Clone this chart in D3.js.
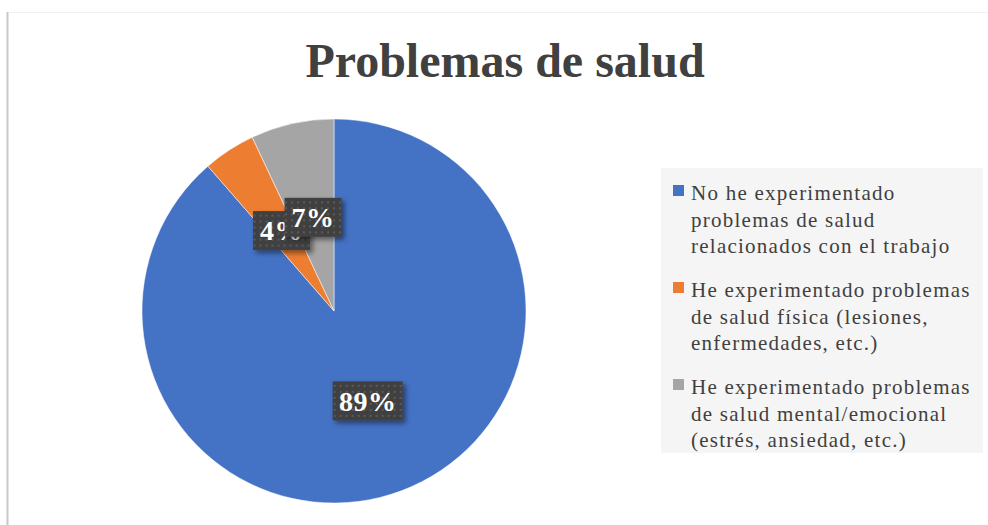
<!DOCTYPE html>
<html>
<head>
<meta charset="utf-8">
<script src="https://cdn.jsdelivr.net/npm/d3@7"></script>
<style>
  body { margin: 0; background: #fff; }
  svg { display: block; }
</style>
</head>
<body>
<svg id="chart"></svg>
<script>
// Data
const CATEGORIES = [
  ["No he experimentado", "problemas de salud", "relacionados con el trabajo"],
  ["He experimentado problemas", "de salud física (lesiones,", "enfermedades, etc.)"],
  ["He experimentado problemas", "de salud mental/emocional", "(estrés, ansiedad, etc.)"]
];
const VALUES = [88.6, 4.4, 7.0];
const LABELS = ["89%", "4%", "7%"];
const COLORS = ["#4472c4", "#ed7d31", "#a5a5a5"];

// SVG constants
const WIDTH = 988;
const HEIGHT = 525;
const CX = 334, CY = 311, R = 192;
const FONT = "'Liberation Serif', 'Times New Roman', serif";

const svg = d3.select("#chart")
  .attr("width", WIDTH)
  .attr("height", HEIGHT);

// Defs: dotted label pattern and shadow
const defs = svg.append("defs");
const pat = defs.append("pattern")
  .attr("id", "dots")
  .attr("width", 6)
  .attr("height", 6)
  .attr("patternUnits", "userSpaceOnUse");
pat.append("rect").attr("width", 6).attr("height", 6).attr("fill", "#404040");
pat.append("rect").attr("x", 2).attr("y", 2).attr("width", 2).attr("height", 2).attr("fill", "#5a5a5a");

const shadow = defs.append("filter")
  .attr("id", "shadow")
  .attr("x", "-20%").attr("y", "-20%")
  .attr("width", "150%").attr("height", "160%");
shadow.append("feDropShadow")
  .attr("dx", 3).attr("dy", 3)
  .attr("stdDeviation", 2.5)
  .attr("flood-color", "#000")
  .attr("flood-opacity", 0.45);

// Frame lines
svg.append("line")
  .attr("x1", 7.5).attr("x2", 7.5)
  .attr("y1", 12).attr("y2", HEIGHT)
  .attr("stroke", "#c8c8c8").attr("stroke-width", 2);
svg.append("line")
  .attr("x1", 9).attr("x2", WIDTH)
  .attr("y1", 12.5).attr("y2", 12.5)
  .attr("stroke", "#f0f0f0").attr("stroke-width", 1);

// Title
svg.append("text")
  .attr("x", 505)
  .attr("y", 77)
  .attr("text-anchor", "middle")
  .attr("font-family", FONT)
  .attr("font-weight", "bold")
  .attr("font-size", 48)
  .attr("fill", "#404040")
  .text("Problemas de salud");

// Pie
const pie = d3.pie().sort(null).value(d => d);
const arcs = pie(VALUES);
const arc = d3.arc().innerRadius(0).outerRadius(R);

const g = svg.append("g").attr("transform", `translate(${CX},${CY})`);

g.selectAll("path")
  .data(arcs)
  .enter()
  .append("path")
  .attr("d", arc)
  .attr("fill", (d, i) => COLORS[i])
  .attr("stroke", "#fff")
  .attr("stroke-width", 0.5);

// Data labels
const labels = g.selectAll(".label")
  .data(arcs)
  .enter()
  .append("g")
  .attr("class", "label")
  .attr("transform", d => `translate(${arc.centroid(d)})`);

labels.append("rect")
  .attr("x", (d, i) => LABELS[i].length > 2 ? -35 : -28.5)
  .attr("y", -19.5)
  .attr("width", (d, i) => LABELS[i].length > 2 ? 70 : 57)
  .attr("height", 39)
  .attr("fill", "url(#dots)")
  .attr("filter", "url(#shadow)");

labels.append("text")
  .attr("text-anchor", "middle")
  .attr("dy", "0.35em")
  .attr("font-family", FONT)
  .attr("font-weight", "bold")
  .attr("font-size", 28)
  .attr("letter-spacing", 0.5)
  .attr("fill", "#fff")
  .text((d, i) => LABELS[i]);

// Legend
const legend = svg.append("g");
legend.append("rect")
  .attr("x", 661)
  .attr("y", 168)
  .attr("width", 322)
  .attr("height", 285)
  .attr("fill", "#f5f5f5");

const items = legend.selectAll(".item")
  .data(CATEGORIES)
  .enter()
  .append("g")
  .attr("class", "item")
  .attr("transform", (d, i) => `translate(673,${185 + i * 97})`);

items.append("rect")
  .attr("width", 11)
  .attr("height", 11)
  .attr("fill", (d, i) => COLORS[i]);

items.append("text")
  .attr("x", 18)
  .attr("font-family", FONT)
  .attr("font-size", 21)
  .attr("letter-spacing", 1.25)
  .attr("fill", "#404040")
  .selectAll("tspan")
  .data(d => d)
  .enter()
  .append("tspan")
  .attr("x", 18)
  .attr("y", (d, i) => 15 + i * 26.5)
  .text(d => d);
</script>
</body>
</html>
